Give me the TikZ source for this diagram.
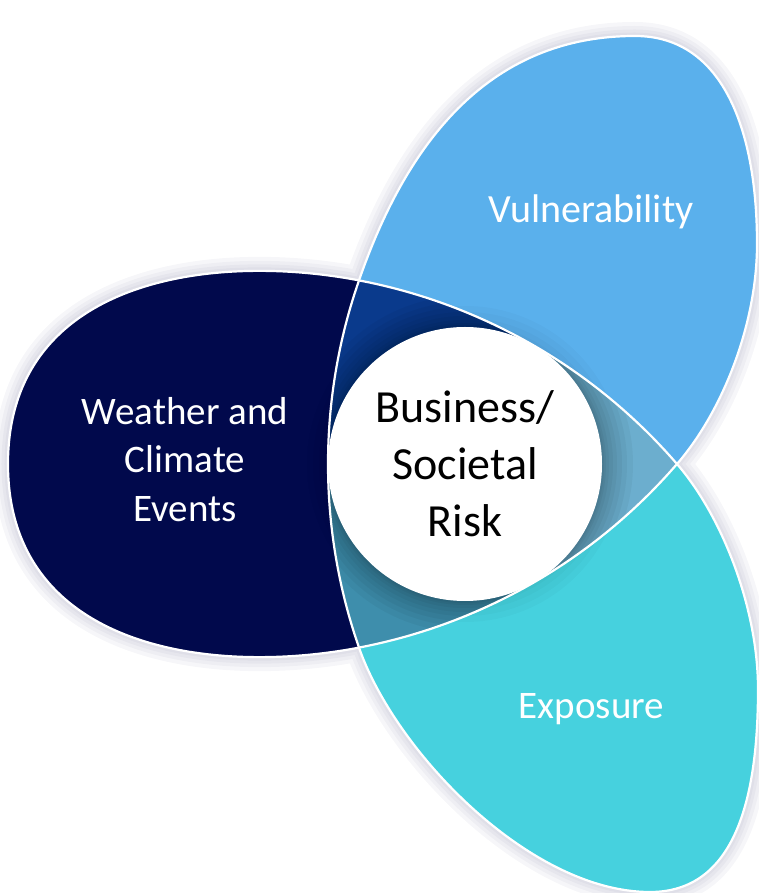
\documentclass[tikz,border=0pt]{standalone}
\usepackage{fontspec}
\setmainfont{Carlito}
\definecolor{deepnavy}{RGB}{1,9,76}
\definecolor{skyblue}{RGB}{90,176,236}
\definecolor{aqua}{RGB}{70,209,222}
\definecolor{cornertop}{RGB}{10,58,140}
\definecolor{cornerright}{RGB}{108,174,206}
\definecolor{cornerbottom}{RGB}{62,142,172}
\definecolor{halo}{RGB}{130,130,165}

\begin{document}
\begin{tikzpicture}[x=1pt,y=1pt,line join=round,
  rim/.style={draw=white, line width=2.2pt},
  petaltext/.style={text=white, font=\fontsize{39}{48}\selectfont, anchor=base, inner sep=0pt},
]
\useasboundingbox (-465,-429) rectangle (294,464);

% centre of the figure and the three points where the petals meet
\coordinate (O) at (0,0);
\coordinate (P1) at (120:212);
\coordinate (P2) at (0:212);
\coordinate (P3) at (240:212);
\coordinate (Lft) at (-457,0);
\coordinate (Top) at (170,428);
\coordinate (Rt) at (292,220);
\coordinate (Bot) at (185,-428);
\coordinate (Rb) at (293,-225);

% soft halo round the outline
\foreach \w in {28,20,13,7}
  \draw[halo, line width=\w pt, opacity=0.07]
    (P1) .. controls (-253.3,211.8) and (-457,185) .. (Lft)
         .. controls (-457,-185) and (-253.3,-211.8) .. (P3)
         .. controls (-69.9,-287.6) and (65,-428) .. (Bot)
         .. controls (270,-428) and (293,-335) .. (Rb)
         .. controls (293,-145) and (257.8,-53) .. (P2)
         .. controls (257.8,53) and (292,140) .. (Rt)
         .. controls (292,330) and (260,428) .. (Top)
         .. controls (20,428) and (-60.1,315.9) .. (P1) -- cycle;

% weather and climate petal
\fill[deepnavy]
  (P1) .. controls (-253.3,211.8) and (-457,185) .. (Lft)
       .. controls (-457,-185) and (-253.3,-211.8) .. (P3)
  arc[start angle=199.174, end angle=160.826, radius=559] -- cycle;

% vulnerability petal
\fill[skyblue]
  (P2) .. controls (257.8,53) and (292,140) .. (Rt)
       .. controls (292,330) and (260,428) .. (Top)
       .. controls (20,428) and (-60.1,315.9) .. (P1)
  arc[start angle=79.174, end angle=40.826, radius=559] -- cycle;

% exposure petal
\fill[aqua]
  (P3) .. controls (-69.9,-287.6) and (65,-428) .. (Bot)
       .. controls (270,-428) and (293,-335) .. (Rb)
       .. controls (293,-145) and (257.8,-53) .. (P2)
  arc[start angle=319.174, end angle=280.826, radius=559] -- cycle;

% faint shadow of the centre disc spilling onto the petals
\foreach \r in {158,152,146,141}
  \fill[black, opacity=0.02] (O) circle[radius=\r];

% shared centre where all three petals overlap
\begin{scope}
  \clip (P1) arc[start angle=79.174, end angle=40.826, radius=559]
             arc[start angle=319.174, end angle=280.826, radius=559]
             arc[start angle=199.174, end angle=160.826, radius=559] -- cycle;
  \fill[cornertop] (O) -- (60:400) arc[start angle=60, end angle=180, radius=400] -- cycle;
  \fill[cornerright] (O) -- (-60:400) arc[start angle=-60, end angle=60, radius=400] -- cycle;
  \fill[cornerbottom] (O) -- (180:400) arc[start angle=180, end angle=300, radius=400] -- cycle;
  % shadow cast by the centre disc
  \foreach \r in {168,162,157,152,148,144,141,139}
    \fill[black, opacity=0.04] (O) circle[radius=\r];
\end{scope}

% white outlines
\draw[rim]
  (P1) .. controls (-253.3,211.8) and (-457,185) .. (Lft)
       .. controls (-457,-185) and (-253.3,-211.8) .. (P3)
       .. controls (-69.9,-287.6) and (65,-428) .. (Bot)
       .. controls (270,-428) and (293,-335) .. (Rb)
       .. controls (293,-145) and (257.8,-53) .. (P2)
       .. controls (257.8,53) and (292,140) .. (Rt)
       .. controls (292,330) and (260,428) .. (Top)
       .. controls (20,428) and (-60.1,315.9) .. (P1) -- cycle;
\draw[rim]
  (P1) arc[start angle=79.174, end angle=40.826, radius=559]
       arc[start angle=319.174, end angle=280.826, radius=559]
       arc[start angle=199.174, end angle=160.826, radius=559] -- cycle;

% centre disc
\node[circle, fill=white, minimum size=274pt, inner sep=0pt, align=center,
      font=\fontsize{46}{57}\selectfont] (risk) at (0,0) {Business/\\Societal\\Risk};

% petal labels
\node[petaltext] (w1) at (-280,39) {Weather and};
\node[petaltext] (w2) at (-280,-9) {Climate};
\node[petaltext] (w3) at (-280,-58) {Events};
\node[petaltext, font=\fontsize{40}{48}\selectfont] (vul) at (126,241) {Vulnerability};
\node[petaltext] (exp) at (126.5,-254) {Exposure};
\end{tikzpicture}
\end{document}
